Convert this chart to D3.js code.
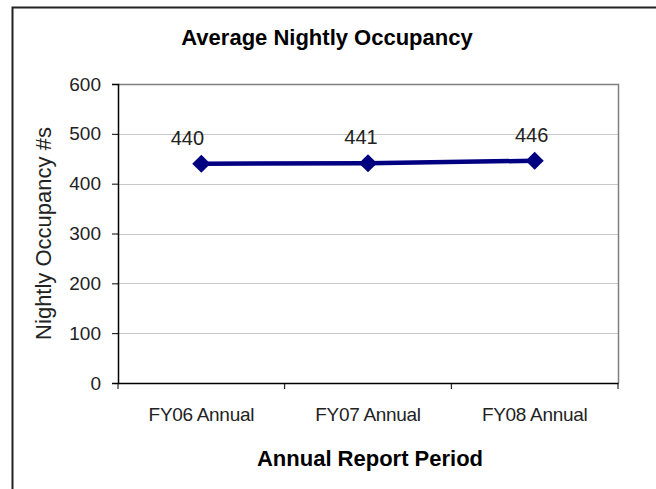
<!DOCTYPE html>
<html><head><meta charset="utf-8">
<script src="https://cdn.jsdelivr.net/npm/d3@7"></script>
<style>
body{margin:0;background:#fff}
text{font-family:"Liberation Sans",Arial,sans-serif}
</style></head>
<body><svg id="c" width="656" height="489"></svg>
<script>
const categories = ["FY06 Annual","FY07 Annual","FY08 Annual"];
const occupancy = [440, 441, 446];
const yTicks = [0,100,200,300,400,500,600];

const svg = d3.select("#c");
const m = {l:118, t:84, r:618, b:383};
const x = d3.scaleBand().domain(categories).range([m.l, m.r]);
const y = d3.scaleLinear().domain([0,600]).range([m.b, m.t]);

// outer frame (top & left)
svg.append("path").attr("d",`M12.5,489 V7.5 H656`).attr("fill","none").attr("stroke","#222").attr("stroke-width",2);

// gridlines
svg.append("g").selectAll("line").data(yTicks.filter(d=>d>0 && d<600)).join("line")
  .attr("x1",m.l).attr("x2",m.r).attr("y1",d=>Math.round(y(d))+0.5).attr("y2",d=>Math.round(y(d))+0.5)
  .attr("stroke","#c8c8c8").attr("stroke-width",1);
// plot border top/right
svg.append("path").attr("d",`M${m.l},${m.t+0.5} H${m.r+0.5} V${m.b}`).attr("fill","none").attr("stroke","#808080").attr("stroke-width",1.5);

// y axis
const ya = svg.append("g").attr("transform",`translate(${m.l},0)`)
  .call(d3.axisLeft(y).tickValues(yTicks).tickSize(6).tickPadding(11));
ya.select(".domain").attr("stroke","#000").attr("stroke-width",1.5);
ya.selectAll(".tick line").attr("stroke","#000");
ya.selectAll(".tick text").attr("font-size",19).attr("fill","#222");

// x axis
const xa = svg.append("g").attr("transform",`translate(0,${m.b})`)
  .call(d3.axisBottom(x).tickSize(0));
xa.select(".domain").attr("stroke","#000").attr("stroke-width",1.5);
xa.selectAll(".tick text").attr("font-size",19).attr("fill","#222").attr("letter-spacing","-0.3")
  .attr("y",38).attr("dy",0);
// boundary ticks
const bounds = categories.map(c=>x(c)).concat([m.r]);
xa.selectAll(".bt").data(bounds).join("line").attr("class","bt")
  .attr("x1",d=>d).attr("x2",d=>d).attr("y1",0).attr("y2",6).attr("stroke","#000").attr("stroke-width",1);

const cx = c => x(c)+x.bandwidth()/2;

// line
svg.append("path").datum(occupancy)
  .attr("d", d3.line().x((d,i)=>cx(categories[i])).y(d=>y(d)))
  .attr("fill","none").attr("stroke","#000080").attr("stroke-width",4.5);

// markers
svg.append("g").selectAll("path").data(occupancy).join("path")
  .attr("transform",(d,i)=>`translate(${cx(categories[i])},${y(d)})`)
  .attr("d", d3.symbol().type(d3.symbolDiamond2).size(210))
  .attr("fill","#000080");

// data labels
svg.append("g").selectAll("text").data(occupancy).join("text")
  .attr("x",(d,i)=>cx(categories[i]) - [14,7,3][i])
  .attr("y",d=>y(d)-19)
  .attr("text-anchor","middle").attr("font-size",20).attr("fill","#222")
  .text(d=>d);

// titles
svg.append("text").attr("x",327).attr("y",45).attr("text-anchor","middle")
  .attr("font-size",22).attr("font-weight","bold").text("Average Nightly Occupancy");
svg.append("text").attr("x",370).attr("y",466).attr("text-anchor","middle")
  .attr("font-size",22).attr("font-weight","bold").text("Annual Report Period");
svg.append("text").attr("transform",`translate(51,${(m.t+m.b)/2}) rotate(-90)`).attr("text-anchor","middle")
  .attr("font-size",22).attr("fill","#222").text("Nightly Occupancy #s");
</script></body></html>
